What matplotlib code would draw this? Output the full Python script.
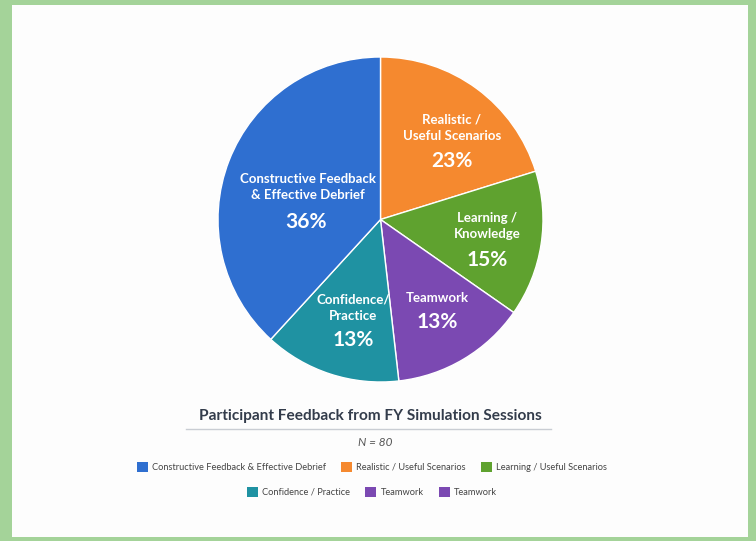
import matplotlib.pyplot as plt
from matplotlib.patches import Rectangle, Patch
from matplotlib.lines import Line2D

# data
names = ["Realistic /\nUseful Scenarios", "Learning /\nKnowledge", "Teamwork",
         "Confidence/\nPractice", "Constructive Feedback\n& Effective Debrief"]
pct_labels = ["23%", "15%", "13%", "13%", "36%"]
# wedge sizes as drawn (the drawn angles differ a bit from the printed %)
wedge_sizes = [20.2, 14.5, 13.5, 13.6, 38.2]
colors = ["#f5892f", "#5fa22f", "#7b49b2", "#1f92a2", "#2f6fd0"]

legend_row1 = ["Constructive Feedback & Effective Debrief", "Realistic / Useful Scenarios",
               "Learning / Useful Scenarios"]
legend_row1_colors = ["#2f6fd0", "#f5892f", "#5fa22f"]
legend_row2 = ["Confidence / Practice", "Teamwork", "Teamwork"]
legend_row2_colors = ["#1f92a2", "#7b49b2", "#7b49b2"]

title = "Participant Feedback from FY Simulation Sessions"
subtitle = "N = 80"

W, H = 756, 541
plt.rcParams['font.family'] = ['Lato', 'DejaVu Sans']

fig = plt.figure(figsize=(W / 100, H / 100), dpi=100, facecolor="#a4d399")
fig.patches.append(Rectangle((12 / W, 4 / H), (748 - 12) / W, (536 - 4) / H,
                             transform=fig.transFigure, facecolor="#fdfdfd",
                             edgecolor="none", zorder=-5))

# pie placement in pixels
cx, cy, r = 380.5, 219.5, 162.5
ax = fig.add_axes([(cx - r) / W, (H - cy - r) / H, 2 * r / W, 2 * r / H])
ax.set_zorder(2)
ax.pie(wedge_sizes, colors=colors, startangle=90, counterclock=False, radius=1,
       wedgeprops=dict(edgecolor="white", linewidth=1.0))
ax.set_xlim(-1, 1)
ax.set_ylim(-1, 1)
ax.set_aspect("equal")
ax.axis("off")

# label positions (pixel centres of name block and percentage)
name_pos = [(452, 128), (487, 226), (437, 298), (353, 308), (308, 187)]
pct_pos = [(452, 161), (487, 260), (437, 322), (353, 340), (306, 222)]


def to_data(px, py):
    return (px - cx) / r, (cy - py) / r


for nm, pc, npos, ppos in zip(names, pct_labels, name_pos, pct_pos):
    x, y = to_data(*npos)
    ax.text(x, y, nm, ha="center", va="center", color="white", fontsize=9.5,
            fontweight="bold", linespacing=1.45)
    x, y = to_data(*ppos)
    ax.text(x, y, pc, ha="center", va="center", color="white", fontsize=15,
            fontweight="bold")

# title, rule and subtitle
fig.text(370 / W, 1 - 416 / H, title, ha="center", va="center", fontsize=11.1,
         fontweight="bold", color="#333c4b")
fig.add_artist(Line2D([186 / W, 551 / W], [1 - 429 / H, 1 - 429 / H],
                      transform=fig.transFigure, color="#c9cdd3", linewidth=1))
fig.text(375 / W, 1 - 442 / H, subtitle, ha="center", va="center", fontsize=8.5,
         style="italic", color="#555555")

# legend, two centred rows
for labels, cols, ypix in [(legend_row1, legend_row1_colors, 467),
                           (legend_row2, legend_row2_colors, 492)]:
    handles = [Patch(facecolor=c, edgecolor="none") for c in cols]
    fig.legend(handles, labels, loc="center", bbox_to_anchor=(372 / W, 1 - ypix / H),
               ncol=3, frameon=False, fontsize=6.7, handlelength=1.2,
               handleheight=1.2, handletextpad=0.45, columnspacing=1.6,
               labelcolor="#444444", borderpad=0, borderaxespad=0)

fig.savefig("out.png", dpi=100, facecolor=fig.get_facecolor())
